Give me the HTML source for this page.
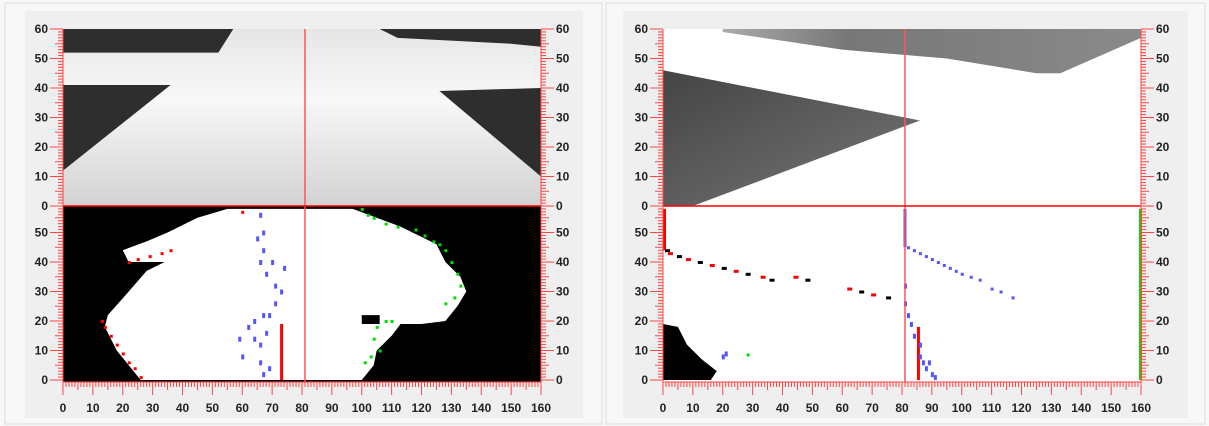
<!DOCTYPE html>
<html><head><meta charset="utf-8">
<style>
body{margin:0;background:#f8f8f8;width:1209px;height:426px;overflow:hidden;font-family:"Liberation Sans",sans-serif}
svg{position:absolute;left:0;top:0}
</style></head>
<body>
<svg id="s" width="1209" height="426">
<defs>
<linearGradient id="g1" x1="0" y1="0" x2="0" y2="1"><stop offset="0" stop-color="#e6e6e6"/><stop offset="0.4" stop-color="#f8f8f8"/><stop offset="1" stop-color="#d2d2d2"/></linearGradient>
<linearGradient id="g2" x1="0" y1="0" x2="1" y2="0"><stop offset="0" stop-color="#aaa"/><stop offset="0.3" stop-color="#777"/><stop offset="1" stop-color="#8a8a8a"/></linearGradient>
<linearGradient id="g3" x1="0" y1="0" x2="1" y2="1"><stop offset="0" stop-color="#444"/><stop offset="1" stop-color="#777"/></linearGradient>
</defs>
<rect x="5" y="3" width="597" height="421" fill="#f8f8f8" stroke="#ddd"/>
<rect x="606" y="3" width="599" height="421" fill="#f8f8f8" stroke="#ddd"/>
<rect x="25" y="11" width="558" height="407" fill="#efefef"/>
<rect x="623" y="11" width="565" height="407" fill="#efefef"/>
<g id="L"></g>
<g id="R"></g>
</svg>
<script>
const NS='http://www.w3.org/2000/svg';
// data
const xTicks=[0,10,20,30,40,50,60,70,80,90,100,110,120,130,140,150,160];
const yTicksTop=[0,10,20,30,40,50,60];
const yTicksBot=[0,10,20,30,40,50];
const crossX=81;
// left top image shapes (data coords)
const lTopDark1=[[0,60],[57,60],[52,52],[0,52]];
const lTopDark2=[[0,41],[36,41],[0,12]];
const lTopDark3=[[106,60],[160,60],[160,54],[150,55],[112,57]];
const lTopDark4=[[126,39],[160,40],[160,10]];
// left bottom blob
const lBlob=[[26,0],[22,5],[18,10],[14,18],[15,22],[22,30],[28,37],[34,40],[22,40],[20,44],[28,47],[35,50],[45,55],[55,58],[97,58],[105,55],[113,52],[125,46],[128,40],[133,35],[135,30],[132,25],[128,20],[120,19],[113,19],[110,15],[105,10],[104,5],[100,0]];
const lHole=[[100,22],[106,22],[106,19],[100,19]];
const lBlueX=[66,67,65,67,66,68,71,70,74,73,71,69,64,62,59,60,67,64,66,68,69,67,66];
const lBlueY=[56,50,48,44,40,36,32,40,38,30,26,22,20,18,14,8,22,14,12,16,4,2,6];
const lRedBar=[73,0,19];
const lGreenX=[100,102,104,108,112,118,121,124,126,128,130,132,133,131,128,108,105,104,110,106,103,101];
const lGreenY=[58,56,55,53,52,51,49,47,46,44,40,36,32,28,26,20,18,14,20,10,8,6];
const lRedEdgeX=[22,25,29,33,36,13,14,16,18,20,22,24,26,60];
const lRedEdgeY=[40,41,42,43,44,20,18,15,12,9,6,4,1,57];
// right panel
const rTopBand=[[20,60],[160,60],[160,57],[133,45],[125,45],[95,50],[60,53],[20,59]];
const rTri=[[0,46],[86,29],[10,0],[0,0]];
const rBlack=[[0,0],[0,19],[5,18],[8,12],[13,7],[18,3],[16,0]];
const rRedX=[1,2,5,8,12,16,20,24,28,33,36,44,48,62,66,70,75];
const rRedY=[44,43,42,41,40,39,38,37,36,35,34,35,34,31,30,29,28];
const rBlueX=[82,84,86,88,90,92,94,96,98,100,103,106,110,113,117];
const rBlueY=[45,44,43,42,41,40,39,38,37,36,35,34,31,30,28];
const rBlueLowX=[81,81,82,83,84,86,86,87,88,89,90,91,20,21];
const rBlueLowY=[32,26,22,19,15,12,8,6,4,6,2,1,8,9];

function el(parent,tag,attrs,name){const e=document.createElementNS(NS,tag);for(const k in attrs)e.setAttribute(k,attrs[k]);


parent.appendChild(e);return e;}

function panel(g,X0,side){
  const W=478;
  const sx=u=>X0+u*W/160;
  const syT=v=>206-v*2.95;
  const syB=v=>380-v*2.95;
  const pts=(arr,sy)=>arr.map(p=>sx(p[0])+','+sy(p[1])).join(' ');
  const XR=X0+W;
  if(side==='L'){
    el(g,'rect',{x:X0,y:29,width:W,height:177,fill:'url(#g1)'},'top-image');
    [lTopDark1,lTopDark2,lTopDark3,lTopDark4].forEach(a=>el(g,'polygon',{points:pts(a,syT),fill:'#2e2e2e'},'top-image-dark-region'));
    el(g,'rect',{x:X0,y:206,width:W,height:176,fill:'#000'},'bottom-image');
    el(g,'polygon',{points:pts(lBlob,syB),fill:'#fff'},'white-blob');
    el(g,'polygon',{points:pts(lHole,syB),fill:'#000'},'blob-hole');
    lRedEdgeX.forEach((x,i)=>el(g,'rect',{x:sx(x)-1,y:syB(lRedEdgeY[i])-1,width:3,height:3,fill:'#f00'},'red-edge-point'));
    lGreenX.forEach((x,i)=>el(g,'rect',{x:sx(x)-1,y:syB(lGreenY[i])-1,width:3,height:3,fill:'#0d0'},'green-edge-point'));
    lBlueX.forEach((x,i)=>el(g,'rect',{x:sx(x)-1,y:syB(lBlueY[i])-2,width:3,height:5,fill:'#55f'},'blue-point'));
    el(g,'rect',{x:sx(lRedBar[0])-1,y:syB(lRedBar[2]),width:3,height:syB(lRedBar[1])-syB(lRedBar[2]),fill:'#f00'},'red-bar');
  } else {
    el(g,'rect',{x:X0,y:29,width:W,height:177,fill:'#fff'},'top-image');
    el(g,'polygon',{points:pts(rTopBand,syT),fill:'url(#g2)'},'top-gray-band');
    el(g,'polygon',{points:pts(rTri,syT),fill:'url(#g3)'},'gray-triangle');
    el(g,'rect',{x:X0,y:206,width:W,height:176,fill:'#fff'},'bottom-image');
    el(g,'polygon',{points:pts(rBlack,syB),fill:'#000'},'black-region');
    el(g,'rect',{x:sx(0),y:syB(58),width:3,height:syB(44)-syB(58),fill:'#f00'},'red-left-bar');
    el(g,'rect',{x:sx(160)-2,y:syB(58),width:3,height:syB(0)-syB(58),fill:'#0d0'},'green-right-bar');
    el(g,'rect',{x:sx(80.5),y:syB(58),width:3,height:syB(45)-syB(58),fill:'#55f'},'blue-top-bar');
    el(g,'rect',{x:sx(85),y:syB(18),width:3,height:syB(0)-syB(18),fill:'#f00'},'red-bar');
    rRedX.forEach((x,i)=>el(g,'rect',{x:sx(x)-1,y:syB(rRedY[i])-1,width:5,height:3,fill:i%2?'#f00':'#000'},'red-point'));
    rBlueX.forEach((x,i)=>el(g,'rect',{x:sx(x)-1,y:syB(rBlueY[i])-1,width:3,height:3,fill:'#55f'},'blue-point'));
    rBlueLowX.forEach((x,i)=>el(g,'rect',{x:sx(x)-1,y:syB(rBlueLowY[i])-2,width:3,height:5,fill:'#55f'},'blue-point'));
    el(g,'rect',{x:sx(28),y:syB(9),width:3,height:3,fill:'#0d0'},'green-point');
  }
  // crosshair
  el(g,'line',{x1:sx(crossX),x2:sx(crossX),y1:29,y2:382,stroke:'#f55','stroke-width':1.5},'crosshair-vertical');
  el(g,'line',{x1:X0,x2:XR,y1:206,y2:206,stroke:'#f00','stroke-width':1.5},'crosshair-horizontal');
  // y ticks
  for(let v=0;v<=60;v++){
    const len=v%10===0?13:(v%5===0?8:5);
    [[syT,60],[syB,58]].forEach(([sy,max])=>{ if(v>max)return;
      const y=sy(v);
      el(g,'line',{x1:X0-len,x2:X0,y1:y,y2:y,stroke:'#f44'},'y-tick-left');
      el(g,'line',{x1:XR,x2:XR+len,y1:y,y2:y,stroke:'#f44'},'y-tick-right');
    });
  }
  el(g,'line',{x1:X0,x2:X0,y1:29,y2:382,stroke:'#f44'},'y-axis-left');
  el(g,'line',{x1:XR,x2:XR,y1:29,y2:382,stroke:'#f44'},'y-axis-right');
  for(let u=0;u<=160;u++){
    const len=u%10===0?13:(u%5===0?8:5);
    el(g,'line',{x1:sx(u),x2:sx(u),y1:382,y2:382+len,stroke:'#f44'},'x-tick');
  }
  el(g,'line',{x1:X0,x2:XR,y1:382,y2:382,stroke:'#f44'},'x-axis');
  const lab=(x,y,t,a,n)=>{const e=el(g,'text',{x:x,y:y,'font-size':12,'font-weight':'bold','text-anchor':a,fill:'#222','font-family':'Liberation Sans, sans-serif'},n);e.textContent=t;};
  yTicksTop.forEach(v=>{lab(X0-15,syT(v)+4,v,'end','y-tick-label-left');lab(XR+15,syT(v)+4,v,'start','y-tick-label-right');});
  yTicksBot.forEach(v=>{lab(X0-15,syB(v)+4,v,'end','y-tick-label-left');lab(XR+15,syB(v)+4,v,'start','y-tick-label-right');});
  xTicks.forEach(u=>lab(sx(u),412,u,'middle','x-tick-label'));
}
panel(document.getElementById('L'),63,'L');
panel(document.getElementById('R'),663,'R');
</script>
</body></html>
